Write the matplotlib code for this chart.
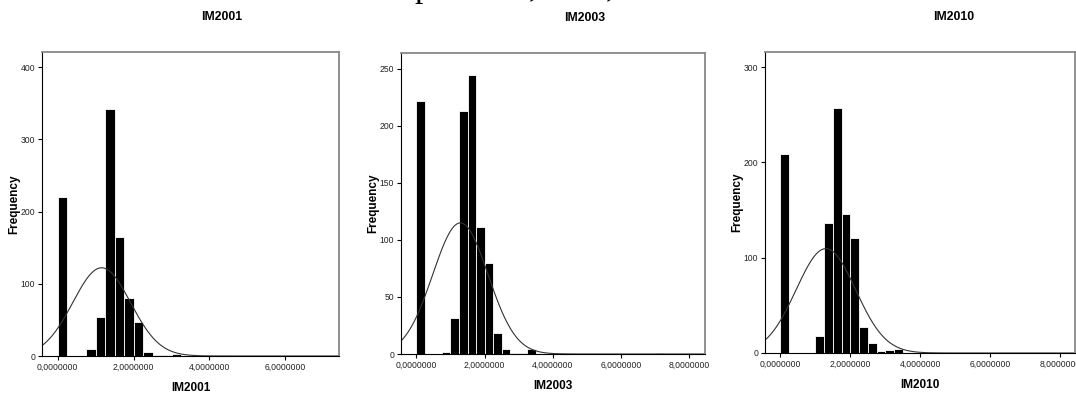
import numpy as np
import matplotlib
matplotlib.use("Agg")
import matplotlib.pyplot as plt
from matplotlib.ticker import FuncFormatter

# histogram data (bin width 0.25)
bin_width = 0.25
names = ["IM2001", "IM2003", "IM2010"]

lefts_2001 = [0, 0.75, 1.0, 1.25, 1.5, 1.75, 2.0, 2.25, 2.5, 2.75, 3.0]
counts_2001 = [220, 10, 54, 342, 165, 80, 47, 6, 2, 2, 3]

lefts_2003 = [0, 0.75, 1.0, 1.25, 1.5, 1.75, 2.0, 2.25, 2.5, 2.75, 3.0, 3.25, 7.0]
counts_2003 = [222, 2, 32, 213, 245, 111, 80, 18, 4, 1, 1, 4, 1]

lefts_2010 = [0, 1.0, 1.25, 1.5, 1.75, 2.0, 2.25, 2.5, 2.75, 3.0, 3.25]
counts_2010 = [209, 18, 136, 257, 146, 121, 27, 11, 2, 3, 4]

# fitted normal curve (mean, std dev) as shown
means = [1.16, 1.29, 1.30]
sds = [0.76, 0.81, 0.85]

yticks = [[0, 100, 200, 300, 400], [0, 50, 100, 150, 200, 250], [0, 100, 200, 300]]
xticks = [[0, 2, 4, 6], [0, 2, 4, 6, 8], [0, 2, 4, 6, 8]]
xlims = [(-0.41, 7.41), (-0.45, 8.46), (-0.44, 8.42)]
ylims = [421, 264, 316]

lefts = [lefts_2001, lefts_2003, lefts_2010]
counts = [counts_2001, counts_2003, counts_2010]

W, H = 1076, 394
fig = plt.figure(figsize=(W / 100, H / 100), dpi=100)

sans = ["Liberation Sans", "DejaVu Sans"]

# axes boxes in pixels: left, right, top, bottom
boxes = [(42, 339, 52, 356), (401, 705, 53, 354), (765, 1075, 52, 353)]
title_pos = [(222, 17), (585, 18), (954, 17)]

fmt = FuncFormatter(lambda v, p: f"{v:.7f}".replace(".", ","))

for i in range(3):
    l, r, t, b = boxes[i]
    ax = fig.add_axes([l / W, 1 - b / H, (r - l) / W, (b - t) / H])
    ax.bar(lefts[i], counts[i], width=bin_width, align="edge",
           color="black", edgecolor="white", linewidth=0.6)

    xs = np.linspace(xlims[i][0], xlims[i][1], 400)
    n = sum(counts[i])
    ys = n * bin_width / (sds[i] * np.sqrt(2 * np.pi)) * np.exp(-0.5 * ((xs - means[i]) / sds[i]) ** 2)
    ax.plot(xs, ys, color="#333333", linewidth=0.8)

    ax.set_xlim(*xlims[i])
    ax.set_ylim(0, ylims[i])
    ax.set_xticks(xticks[i])
    ax.set_yticks(yticks[i])
    ax.xaxis.set_major_formatter(fmt)
    ax.tick_params(length=3, width=0.8, pad=2, labelsize=6.2, colors="black")
    for lab in ax.get_xticklabels() + ax.get_yticklabels():
        lab.set_family(sans)
        lab.set_color("#222222")

    for s in ["left", "bottom"]:
        ax.spines[s].set_color("black")
        ax.spines[s].set_linewidth(0.8)
    for s in ["top", "right"]:
        ax.spines[s].set_color("#888888")
        ax.spines[s].set_linewidth(1.3)

    ax.set_xlabel(names[i], fontsize=8.5, fontweight="bold", family=sans, va="center")
    ax.xaxis.set_label_coords(0.5, -32 / (b - t))
    ax.set_ylabel("Frequency", fontsize=8.5, fontweight="bold", family=sans, va="center")
    ax.yaxis.set_label_coords(-28 / (r - l), 0.5)

    fig.text(title_pos[i][0] / W, 1 - title_pos[i][1] / H, names[i], ha="center", va="center",
             fontsize=8.8, fontweight="bold", family=sans)

# cropped caption fragment at the very top of the page
for x, s in [(423, "p"), (533, ","), (610, ",")]:
    fig.text(x / W, 1 + 3.5 / H, s, ha="center", va="baseline", fontsize=24,
             family=["Liberation Serif", "DejaVu Serif"])

fig.savefig("out.png", dpi=100)
